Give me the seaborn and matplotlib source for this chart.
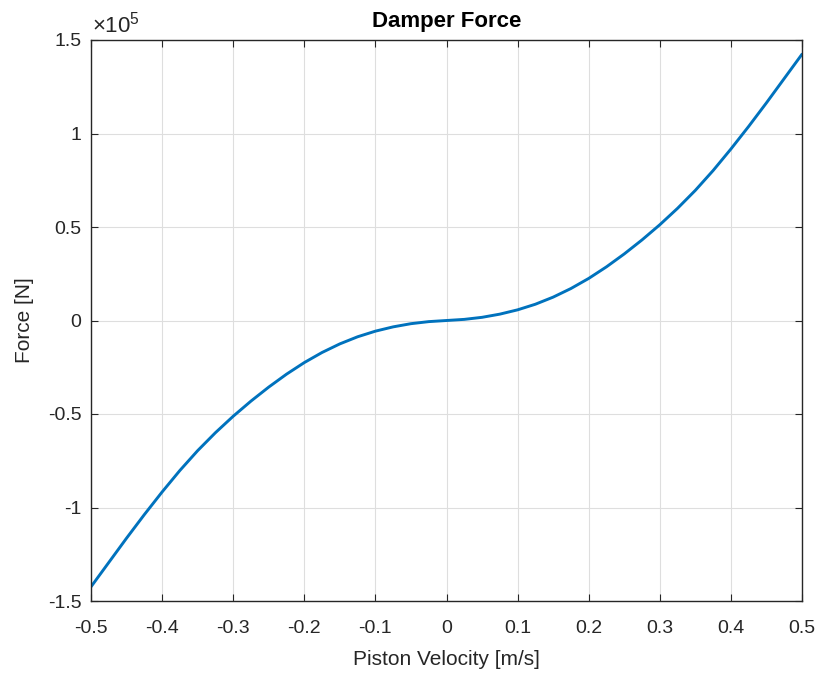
import numpy as np
import pandas as pd
import matplotlib
matplotlib.use("Agg")
import matplotlib.pyplot as plt
from matplotlib.ticker import FuncFormatter
import seaborn as sns

# Data (velocity in m/s, force in N)
velocity = [-0.5, -0.475, -0.45, -0.425, -0.4, -0.375, -0.35, -0.325, -0.3, -0.275,
            -0.25, -0.225, -0.2, -0.175, -0.15, -0.125, -0.1, -0.075, -0.05, -0.025,
            0.0,
            0.025, 0.05, 0.075, 0.1, 0.125, 0.15, 0.175, 0.2, 0.225, 0.25,
            0.275, 0.3, 0.325, 0.35, 0.375, 0.4, 0.425, 0.45, 0.475, 0.5]
force = [-1.424e5, -1.294e5, -1.164e5, -1.038e5, -0.917e5, -0.802e5, -0.696e5, -0.600e5,
         -0.512e5, -0.431e5, -0.356e5, -0.287e5, -0.225e5, -0.171e5, -0.125e5, -0.087e5,
         -0.057e5, -0.034e5, -0.017e5, -0.006e5,
         0.0,
         0.006e5, 0.017e5, 0.034e5, 0.057e5, 0.087e5, 0.125e5, 0.171e5, 0.225e5, 0.287e5,
         0.356e5, 0.431e5, 0.512e5, 0.600e5, 0.696e5, 0.802e5, 0.917e5, 1.038e5, 1.164e5,
         1.294e5, 1.424e5]
xticks = [-0.5, -0.4, -0.3, -0.2, -0.1, 0, 0.1, 0.2, 0.3, 0.4, 0.5]
yticks = [-1.5e5, -1e5, -0.5e5, 0, 0.5e5, 1e5, 1.5e5]

df = pd.DataFrame({"Piston Velocity [m/s]": velocity, "Force [N]": force})

sns.set_theme(style="white")
plt.rcParams['font.family'] = ['Liberation Sans', 'DejaVu Sans']
plt.rcParams['axes.unicode_minus'] = False
plt.rcParams['mathtext.fontset'] = 'custom'
plt.rcParams['mathtext.rm'] = 'Liberation Sans'

fig = plt.figure(figsize=(8.22, 6.75), dpi=100)
ax = fig.add_axes([91/822, 1 - 601/675, (802 - 91)/822, (601 - 40)/675])

sns.lineplot(data=df, x="Piston Velocity [m/s]", y="Force [N]", ax=ax,
             color="#0072BD", linewidth=2.1, sort=True, estimator=None)

ax.set_xlim(-0.5, 0.5)
ax.set_ylim(-1.5e5, 1.5e5)
ax.set_xticks(xticks)
ax.set_yticks(yticks)
ax.xaxis.set_major_formatter(FuncFormatter(lambda v, p: f"{v:g}" if abs(v) > 1e-9 else "0"))
ax.yaxis.set_major_formatter(FuncFormatter(lambda v, p: f"{v/1e5:g}" if abs(v) > 1e-9 else "0"))

dark = "#262626"
for s in ax.spines.values():
    s.set_color(dark)
    s.set_linewidth(1.0)
    s.set_visible(True)
ax.grid(True, color="#dedede", linewidth=0.8)
ax.set_axisbelow(True)
ax.tick_params(direction="in", length=5, width=0.8, color=dark, labelcolor=dark,
               labelsize=14, top=True, right=True, bottom=True, left=True)
ax.tick_params(axis="x", pad=14)
ax.tick_params(axis="y", pad=7)

ax.set_xlabel("Piston Velocity [m/s]", fontsize=15, color=dark, labelpad=9)
ax.set_ylabel("Force [N]", fontsize=15, color=dark, labelpad=10)
ax.set_title("Damper Force", fontsize=16, fontweight="bold", color="black", pad=9)
ax.text(0.002, 1 + 7/561, "\u00d710$^{5}$", transform=ax.transAxes, fontsize=16,
        color=dark, ha="left", va="baseline")

fig.savefig("out.png", dpi=100)
